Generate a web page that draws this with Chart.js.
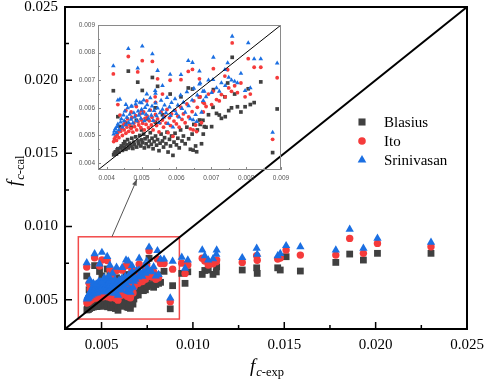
<!DOCTYPE html>
<html><head><meta charset="utf-8">
<script src="https://cdn.jsdelivr.net/npm/chart.js@4.4.1/dist/chart.umd.min.js"></script>
<style>
html,body{margin:0;padding:0;background:#fff;}
#wrap{position:relative;width:484px;height:384px;overflow:hidden;}
#main{position:absolute;left:0;top:0;}
#inset{position:absolute;left:60px;top:15px;}
</style></head><body>
<div id="wrap"><canvas id="main" width="484" height="384"></canvas><canvas id="inset" width="230" height="175"></canvas></div>
<script>
// experimental friction factor (x) and three correlations (y)
const fExp = [
0.00420,0.00422,0.00425,0.00428,0.00430,0.00432,0.00435,0.00438,0.00440,0.00442,
0.00445,0.00448,0.00450,0.00452,0.00455,0.00458,0.00460,0.00463,0.00466,0.00470,
0.00472,0.00475,0.00478,0.00480,0.00483,0.00486,0.00490,0.00492,0.00495,0.00498,
0.00500,0.00503,0.00506,0.00508,0.00510,0.00513,0.00516,0.00520,0.00522,0.00525,
0.00528,0.00530,0.00533,0.00536,0.00540,0.00543,0.00546,0.00550,0.00553,0.00556,
0.00560,0.00563,0.00566,0.00570,0.00573,0.00576,0.00580,0.00583,0.00586,0.00590,
0.00593,0.00596,0.00600,0.00604,0.00608,0.00612,0.00616,0.00620,0.00625,0.00630,
0.00635,0.00640,0.00645,0.00650,0.00655,0.00660,0.00666,0.00672,0.00680,0.00648,
0.00658,0.00677,0.00701,
0.00432,0.00455,0.00470,0.00485,0.00500,0.00515,0.00540,0.00560,
0.00419,0.00462,0.00489,0.00502,0.00531,0.00539,0.00546,0.00582,0.00613,0.00634,
0.00646,0.00666,0.00706,0.00739,0.00747,0.00760,0.00767,0.00797,0.00806,0.00823,
0.00842,0.00876,0.00889,
0.00668,0.00676,0.00685,0.00692,0.00705,0.00715,0.00723,0.00729,0.00740,0.00750,
0.00758,0.00775,0.00785,0.00812,
0.00939,0.00957,0.00972,0.01051,0.01065,0.01084,0.01110,0.01128,0.01130,0.01270,
0.01349,0.01352,0.01464,0.01478,0.01510,0.01588,0.01782,0.01858,0.01933,0.02010,
0.02303];
const fBlasius = [
0.00430,0.00436,0.00441,0.00433,0.00448,0.00452,0.00440,0.00532,0.00455,0.00462,
0.00446,0.00470,0.00458,0.00478,0.00450,0.00466,0.00485,0.00455,0.00472,0.00462,
0.00490,0.00453,0.00476,0.00466,0.00495,0.00458,0.00480,0.00470,0.00500,0.00462,
0.00484,0.00474,0.00505,0.00455,0.00488,0.00470,0.00495,0.00460,0.00480,0.00510,
0.00468,0.00490,0.00452,0.00478,0.00498,0.00465,0.00485,0.00445,0.00472,0.00505,
0.00480,0.00458,0.00492,0.00470,0.00512,0.00440,0.00486,0.00462,0.00498,0.00428,
0.00476,0.00508,0.00466,0.00490,0.00455,0.00520,0.00480,0.00498,0.00470,0.00530,
0.00488,0.00450,0.00505,0.00540,0.00462,0.00520,0.00556,0.00470,0.00532,0.00447,
0.00441,0.00505,0.00532,
0.00568,0.00545,0.00530,0.00555,0.00520,0.00560,0.00548,0.00575,
0.00662,0.00733,0.00693,0.00663,0.00710,0.00600,0.00678,0.00650,0.00640,0.00672,
0.00668,0.00640,0.00666,0.00640,0.00690,0.00783,0.00650,0.00604,0.00669,0.00619,
0.00694,0.00438,0.00596,
0.00540,0.00555,0.00530,0.00575,0.00602,0.00580,0.00574,0.00562,0.00568,0.00590,
0.00600,0.00604,0.00585,0.00612,
0.00680,0.00612,0.00691,0.00673,0.00700,0.00703,0.00673,0.00690,0.00725,0.00703,
0.00718,0.00680,0.00718,0.00703,0.00794,0.00696,0.00755,0.00812,0.00771,0.00817,
0.00817];
const fIto = [
0.00478,0.00488,0.00495,0.00482,0.00502,0.00510,0.00492,0.00574,0.00515,0.00525,
0.00500,0.00538,0.00520,0.00550,0.00508,0.00530,0.00560,0.00515,0.00540,0.00525,
0.00565,0.00512,0.00545,0.00532,0.00572,0.00520,0.00550,0.00538,0.00578,0.00528,
0.00556,0.00544,0.00585,0.00520,0.00562,0.00540,0.00571,0.00528,0.00553,0.00592,
0.00538,0.00566,0.00520,0.00552,0.00576,0.00536,0.00560,0.00513,0.00545,0.00585,
0.00556,0.00530,0.00570,0.00545,0.00594,0.00510,0.00564,0.00536,0.00578,0.00497,
0.00552,0.00590,0.00542,0.00570,0.00530,0.00603,0.00558,0.00578,0.00546,0.00614,
0.00567,0.00524,0.00586,0.00625,0.00538,0.00602,0.00640,0.00546,0.00616,0.00520,
0.00514,0.00585,0.00612,
0.00612,0.00590,0.00585,0.00605,0.00590,0.00625,0.00620,0.00650,
0.00723,0.00786,0.00730,0.00771,0.00768,0.00640,0.00705,0.00700,0.00702,0.00732,
0.00739,0.00705,0.00742,0.00715,0.00738,0.00835,0.00680,0.00640,0.00778,0.00747,
0.00747,0.00486,0.00709,
0.00640,0.00620,0.00605,0.00650,0.00660,0.00630,0.00625,0.00648,0.00640,0.00672,
0.00660,0.00655,0.00690,0.00650,
0.00750,0.00680,0.00737,0.00783,0.00765,0.00737,0.00745,0.00760,0.00771,0.00755,
0.00800,0.00770,0.00778,0.00785,0.00839,0.00805,0.00805,0.00919,0.00817,0.00885,
0.00862];
const fSrinivasan = [
0.00505,0.00516,0.00525,0.00510,0.00532,0.00541,0.00520,0.00631,0.00548,0.00560,
0.00530,0.00574,0.00553,0.00588,0.00538,0.00565,0.00600,0.00546,0.00576,0.00558,
0.00606,0.00545,0.00582,0.00566,0.00613,0.00553,0.00588,0.00573,0.00620,0.00562,
0.00594,0.00580,0.00628,0.00553,0.00601,0.00576,0.00611,0.00562,0.00591,0.00636,
0.00573,0.00606,0.00554,0.00590,0.00617,0.00571,0.00599,0.00546,0.00582,0.00627,
0.00594,0.00565,0.00610,0.00582,0.00637,0.00543,0.00603,0.00572,0.00619,0.00530,
0.00590,0.00632,0.00579,0.00610,0.00566,0.00646,0.00597,0.00620,0.00584,0.00658,
0.00607,0.00560,0.00628,0.00670,0.00575,0.00646,0.00686,0.00584,0.00660,0.00556,
0.00550,0.00626,0.00655,
0.00628,0.00612,0.00605,0.00625,0.00618,0.00650,0.00652,0.00680,
0.00752,0.00814,0.00744,0.00823,0.00795,0.00662,0.00735,0.00721,0.00720,0.00771,
0.00764,0.00733,0.00783,0.00738,0.00763,0.00859,0.00696,0.00662,0.00835,0.00777,
0.00777,0.00511,0.00762,
0.00690,0.00660,0.00640,0.00700,0.00702,0.00672,0.00660,0.00690,0.00680,0.00710,
0.00700,0.00690,0.00725,0.00672,
0.00790,0.00714,0.00771,0.00839,0.00800,0.00771,0.00780,0.00810,0.00839,0.00787,
0.00851,0.00810,0.00800,0.00815,0.00869,0.00862,0.00839,0.00981,0.00851,0.00919,
0.00892];

const seriesNames = ['Blasius', 'Ito', 'Srinivasan'];
const mainTickValues = [0.005, 0.010, 0.015, 0.020, 0.025];
const mainTickLabels = ['0.005', '0.010', '0.015', '0.020', '0.025'];
const mainMinorValues = [0.0075, 0.0125, 0.0175, 0.0225];
const insetTickValues = [0.004, 0.005, 0.006, 0.007, 0.008, 0.009];
const insetTickLabels = ['0.004', '0.005', '0.006', '0.007', '0.008', '0.009'];
const insetMinorValues = [0.0045, 0.0055, 0.0065, 0.0075, 0.0085];
const zoomBox = {xMin: 0.00373, xMax: 0.00926, yMin: 0.00368, yMax: 0.0093};
const arrowFrom = {x: 0.00557, y: 0.0093};
const arrowTo = {x: 0.00694, y: 0.01324};

const colors = {Blasius: '#404040', Ito: '#f53b3b', Srinivasan: '#1b6fe2'};
const serif = '"Liberation Serif", "Times New Roman", serif';
const sans = '"Liberation Sans", Arial, sans-serif';

function pts(ys) { return fExp.map((x, i) => ({x: x, y: ys[i]})); }

function seriesSets(r) {
  return [
    {label: 'Srinivasan', data: pts(fSrinivasan), pointStyle: 'triangle', pointRadius: r.tri,
     pointBackgroundColor: colors.Srinivasan, pointBorderWidth: 0, showLine: false, order: 1},
    {label: 'Ito', data: pts(fIto), pointStyle: 'circle', pointRadius: r.cir,
     pointBackgroundColor: colors.Ito, pointBorderWidth: 0, showLine: false, order: 2},
    {label: 'Blasius', data: pts(fBlasius), pointStyle: 'rect', pointRadius: r.rect,
     pointBackgroundColor: colors.Blasius, pointBorderWidth: 0, showLine: false, order: 3}
  ];
}

function fixedTicks(values) {
  return function (s) { s.ticks = values.map(v => ({value: v})); };
}
function zeroPad(s) { s.paddingLeft = 0; s.paddingRight = 0; s.paddingTop = 0; s.paddingBottom = 0; }

function drawMarker(ctx, style, x, y, r, color) {
  ctx.fillStyle = color;
  ctx.beginPath();
  if (style === 'rect') {
    const h = r * Math.SQRT1_2;
    ctx.rect(x - h, y - h, 2 * h, 2 * h);
  } else if (style === 'circle') {
    ctx.arc(x, y, r, 0, Math.PI * 2);
  } else {
    ctx.moveTo(x, y - r);
    ctx.lineTo(x + r * Math.sin(2 * Math.PI / 3), y - r * Math.cos(2 * Math.PI / 3));
    ctx.lineTo(x + r * Math.sin(4 * Math.PI / 3), y - r * Math.cos(4 * Math.PI / 3));
    ctx.closePath();
  }
  ctx.fill();
}

function drawTitle(ctx, x, y, rot, sub) {
  ctx.save();
  ctx.translate(x, y);
  ctx.rotate(rot);
  ctx.fillStyle = '#000';
  ctx.textAlign = 'left';
  ctx.textBaseline = 'alphabetic';
  ctx.font = 'italic 19px ' + serif;
  ctx.fillText('f', 0, 0);
  let w = ctx.measureText('f').width + 1;
  ctx.font = 'italic 12.5px ' + serif;
  ctx.fillText('c', w, 4);
  w += ctx.measureText('c').width;
  ctx.font = '12.5px ' + serif;
  ctx.fillText(sub, w, 4);
  ctx.restore();
}

const mainDecor = {
  id: 'mainDecor',
  beforeDatasetsDraw(chart) {
    const ctx = chart.ctx, xs = chart.scales.x, ys = chart.scales.y;
    ctx.save();
    ctx.strokeStyle = '#f24a4a';
    ctx.lineWidth = 1.5;
    const x0 = xs.getPixelForValue(zoomBox.xMin), x1 = xs.getPixelForValue(zoomBox.xMax);
    const y0 = ys.getPixelForValue(zoomBox.yMax), y1 = ys.getPixelForValue(zoomBox.yMin);
    ctx.strokeRect(x0, y0, x1 - x0, y1 - y0);
    ctx.restore();
  },
  afterDraw(chart) {
    const ctx = chart.ctx, a = chart.chartArea, xs = chart.scales.x, ys = chart.scales.y;
    ctx.save();
    // frame
    ctx.strokeStyle = '#000';
    ctx.lineWidth = 2;
    ctx.strokeRect(a.left, a.top, a.right - a.left, a.bottom - a.top);
    // inward ticks
    ctx.lineWidth = 1.5;
    ctx.beginPath();
    mainTickValues.forEach(v => {
      const px = xs.getPixelForValue(v);
      ctx.moveTo(px, a.bottom); ctx.lineTo(px, a.bottom - 7);
      const py = ys.getPixelForValue(v);
      ctx.moveTo(a.left, py); ctx.lineTo(a.left + 7, py);
    });
    mainMinorValues.forEach(v => {
      const px = xs.getPixelForValue(v);
      ctx.moveTo(px, a.bottom); ctx.lineTo(px, a.bottom - 4);
      const py = ys.getPixelForValue(v);
      ctx.moveTo(a.left, py); ctx.lineTo(a.left + 4, py);
    });
    ctx.stroke();
    // arrow
    const ax0 = xs.getPixelForValue(arrowFrom.x), ay0 = ys.getPixelForValue(arrowFrom.y);
    const ax1 = xs.getPixelForValue(arrowTo.x), ay1 = ys.getPixelForValue(arrowTo.y);
    ctx.strokeStyle = '#555';
    ctx.fillStyle = '#555';
    ctx.lineWidth = 1;
    ctx.beginPath(); ctx.moveTo(ax0, ay0); ctx.lineTo(ax1, ay1); ctx.stroke();
    const ang = Math.atan2(ay1 - ay0, ax1 - ax0);
    ctx.beginPath();
    ctx.moveTo(ax1, ay1);
    ctx.lineTo(ax1 - 7 * Math.cos(ang - 0.35), ay1 - 7 * Math.sin(ang - 0.35));
    ctx.lineTo(ax1 - 7 * Math.cos(ang + 0.35), ay1 - 7 * Math.sin(ang + 0.35));
    ctx.closePath(); ctx.fill();
    // legend
    const styles = {Blasius: ['rect', 5], Ito: ['circle', 3.8], Srinivasan: ['triangle', 5]};
    seriesNames.forEach((n, i) => {
      const ly = 122 + i * 19;
      drawMarker(ctx, styles[n][0], 362, ly, styles[n][1], colors[n]);
      ctx.fillStyle = '#000';
      ctx.font = '15px ' + serif;
      ctx.textAlign = 'left';
      ctx.textBaseline = 'middle';
      ctx.fillText(n, 384, ly + 1);
    });
    ctx.restore();
    // axis titles
    drawTitle(ctx, 250, 372, 0, '-exp');
    drawTitle(ctx, 20, 186, -Math.PI / 2, '-cal');
  }
};

new Chart(document.getElementById('main'), {
  type: 'scatter',
  data: {datasets: [
    {type: 'line', data: [{x: 0.003, y: 0.003}, {x: 0.025, y: 0.025}], borderColor: '#000',
     borderWidth: 2, pointRadius: 0, order: 0},
    ...seriesSets({tri: 4.8, cir: 3.7, rect: 4.8})
  ]},
  options: {
    responsive: false, animation: false,
    layout: {padding: {left: 0, top: 7, right: 17, bottom: 0}},
    plugins: {legend: {display: false}, tooltip: {enabled: false}},
    scales: {
      x: {type: 'linear', min: 0.003, max: 0.025,
          afterBuildTicks: fixedTicks(mainTickValues),
          afterFit: s => { s.height = 55; zeroPad(s); },
          grid: {display: false, drawTicks: false}, border: {display: false},
          ticks: {padding: 7, color: '#000', font: {family: serif, size: 15}, maxRotation: 0, autoSkip: false,
                  callback: (v, i) => mainTickLabels[i]}},
      y: {type: 'linear', min: 0.003, max: 0.025,
          afterBuildTicks: fixedTicks(mainTickValues),
          afterFit: s => { s.width = 65; zeroPad(s); },
          grid: {display: false, drawTicks: false}, border: {display: false},
          ticks: {padding: 7, color: '#000', font: {family: serif, size: 15}, autoSkip: false,
                  callback: (v, i) => mainTickLabels[i]}}
    }
  },
  plugins: [mainDecor]
});

const insetDecor = {
  id: 'insetDecor',
  afterDraw(chart) {
    const ctx = chart.ctx, a = chart.chartArea, xs = chart.scales.x, ys = chart.scales.y;
    ctx.save();
    ctx.strokeStyle = '#8a8a8a';
    ctx.lineWidth = 1;
    ctx.strokeRect(a.left + 0.5, a.top + 0.5, a.right - a.left - 1, a.bottom - a.top - 1);
    ctx.beginPath();
    insetTickValues.forEach(v => {
      const px = Math.round(xs.getPixelForValue(v)) + 0.5;
      ctx.moveTo(px, a.bottom); ctx.lineTo(px, a.bottom - 3);
      const py = Math.round(ys.getPixelForValue(v)) + 0.5;
      ctx.moveTo(a.left, py); ctx.lineTo(a.left + 3, py);
    });
    insetMinorValues.forEach(v => {
      const px = Math.round(xs.getPixelForValue(v)) + 0.5;
      ctx.moveTo(px, a.bottom); ctx.lineTo(px, a.bottom - 2);
      const py = Math.round(ys.getPixelForValue(v)) + 0.5;
      ctx.moveTo(a.left, py); ctx.lineTo(a.left + 2, py);
    });
    ctx.stroke();
    ctx.restore();
  }
};

const insetSets = seriesSets({tri: 2.7, cir: 1.9, rect: 2.6}).map(d => Object.assign(d, {clip: 0}));
new Chart(document.getElementById('inset'), {
  type: 'scatter',
  data: {datasets: [
    {type: 'line', data: [{x: 0.00375, y: 0.00375}, {x: 0.009, y: 0.009}], borderColor: '#000',
     borderWidth: 1, pointRadius: 0, order: 0, clip: 0},
    ...insetSets
  ]},
  options: {
    responsive: false, animation: false,
    layout: {padding: {left: 0, top: 10, right: 9, bottom: 0}},
    plugins: {legend: {display: false}, tooltip: {enabled: false}},
    scales: {
      x: {type: 'linear', min: 0.00375, max: 0.009,
          afterBuildTicks: fixedTicks(insetTickValues),
          afterFit: s => { s.height = 20; zeroPad(s); },
          grid: {display: false, drawTicks: false}, border: {display: false},
          ticks: {padding: 4, color: '#555', font: {family: sans, size: 6.5}, maxRotation: 0, autoSkip: false,
                  callback: (v, i) => insetTickLabels[i]}},
      y: {type: 'linear', min: 0.00375, max: 0.009,
          afterBuildTicks: fixedTicks(insetTickValues),
          afterFit: s => { s.width = 38; zeroPad(s); },
          grid: {display: false, drawTicks: false}, border: {display: false},
          ticks: {padding: 3, color: '#555', font: {family: sans, size: 6.5}, autoSkip: false,
                  callback: (v, i) => insetTickLabels[i]}}
    }
  },
  plugins: [insetDecor]
});
</script>
</body></html>
